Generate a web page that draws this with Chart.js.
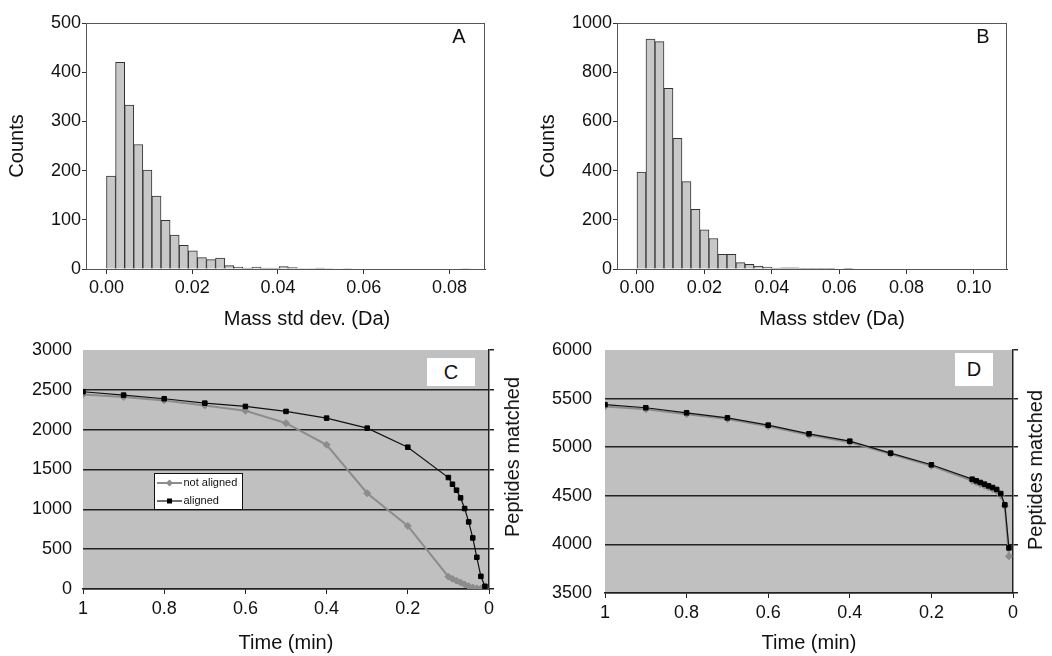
<!DOCTYPE html>
<html>
<head>
<meta charset="utf-8">
<script src="https://cdn.jsdelivr.net/npm/chart.js@4.4.1/dist/chart.umd.min.js"></script>
<style>
  body { margin: 0; background: #fff; width: 1052px; height: 656px; position: relative; overflow: hidden;
         font-family: "Liberation Sans", Arial, sans-serif; color: #111; }
  canvas { position: absolute; }
  .lbl { position: absolute; transform: translate(-50%, -50%); white-space: nowrap; line-height: 1; }
  .rot { transform: translate(-50%, -50%) rotate(-90deg); }
  .box { position: absolute; background: #fff; display: flex; align-items: center; justify-content: center; font-size: 20px; }
</style>
</head>
<body>
<canvas id="chartA" width="520" height="300" style="left:0;top:0"></canvas>
<canvas id="chartB" width="532" height="300" style="left:520px;top:0"></canvas>
<canvas id="chartC" width="520" height="356" style="left:0;top:300px"></canvas>
<canvas id="chartD" width="532" height="356" style="left:520px;top:300px"></canvas>

<div class="lbl" style="left:307px;top:318px;font-size:20px">Mass std dev. (Da)</div>
<div class="lbl" style="left:832px;top:318px;font-size:20px">Mass stdev (Da)</div>
<div class="lbl rot" style="left:512px;top:457px;font-size:20px">Peptides matched</div>
<div class="lbl rot" style="left:1035px;top:470px;font-size:20px">Peptides matched</div>
<div class="lbl" style="left:459px;top:36px;font-size:20px">A</div>
<div class="lbl" style="left:983px;top:36px;font-size:20px">B</div>
<div class="box" style="left:427px;top:358px;width:48px;height:28px">C</div>
<div class="box" style="left:955px;top:353px;width:38px;height:33px">D</div>

<script>
// histogram A: bin width (Da) and counts per bin
const binA = 0.00212;
const countsA = [189, 420, 333, 253, 201, 148, 99, 69, 48, 37, 23, 19, 22, 7, 4, 2, 4, 2, 2, 5,
                 3, 1, 1, 2, 1, 0, 1, 0, 0, 0, 0, 0, 0, 0, 0, 0, 0, 0, 0, 1];
const ticksA = [0, 0.02, 0.04, 0.06, 0.08];

// histogram B
const binB = 0.00267;
const countsB = [394, 935, 924, 734, 531, 355, 243, 159, 124, 60, 60, 26, 19, 12, 8, 4, 5, 5, 1, 3,
                 3, 1, 0, 3];
const ticksB = [0, 0.02, 0.04, 0.06, 0.08, 0.10];

// time windows (min) for C and D
const timeMin = [1, 0.9, 0.8, 0.7, 0.6, 0.5, 0.4, 0.3, 0.2, 0.1,
                 0.09, 0.08, 0.07, 0.06, 0.05, 0.04, 0.03, 0.02, 0.01];
const notAlignedC = [2442, 2409, 2367, 2304, 2237, 2082, 1810, 1202, 792, 155,
                     128, 105, 82, 58, 35, 18, 8, 5, 10];
const alignedC = [2476, 2434, 2388, 2333, 2292, 2229, 2145, 2019, 1780, 1399,
                  1315, 1240, 1144, 1010, 842, 641, 398, 159, 34];
const notAlignedD = [5418, 5390, 5340, 5290, 5215, 5125, 5050, 4930, 4808, 4655,
                     4638, 4620, 4603, 4587, 4570, 4550, 4505, 4395, 3878];
const alignedD = [5438, 5406, 5354, 5302, 5227, 5138, 5062, 4939, 4819, 4671,
                  4654, 4637, 4620, 4602, 4585, 4565, 4523, 4407, 3964];

Chart.defaults.font.family = '"Liberation Sans", Arial, sans-serif';
Chart.defaults.color = '#111';

// fills / outlines the plot area
const framePlugin = {
    id: 'frame',
    beforeDraw(chart, args, opts) {
        const a = chart.chartArea;
        if (opts.fill) {
            chart.ctx.save();
            chart.ctx.fillStyle = opts.fill;
            chart.ctx.fillRect(a.left, a.top, a.right - a.left, a.bottom - a.top);
            chart.ctx.restore();
        }
    },
    afterDraw(chart, args, opts) {
        const a = chart.chartArea;
        if (opts.stroke) {
            const ctx = chart.ctx;
            ctx.save();
            ctx.strokeStyle = opts.stroke;
            ctx.lineWidth = 1;
            ctx.strokeRect(a.left + 0.5, a.top + 0.5, a.right - a.left - 1, a.bottom - a.top);
            ctx.restore();
        }
    }
};

// small boxed legend inside the plot (Excel style)
const boxLegend = {
    id: 'boxLegend',
    afterDraw(chart, args, opts) {
        if (!opts.display) return;
        const ctx = chart.ctx, a = chart.chartArea;
        const x0 = Math.round(a.left + opts.left), y0 = Math.round(a.top + opts.top);
        ctx.save();
        ctx.fillStyle = '#fff';
        ctx.fillRect(x0, y0, opts.width, opts.height);
        ctx.strokeStyle = '#111';
        ctx.lineWidth = 1;
        ctx.strokeRect(x0 + 0.5, y0 + 0.5, opts.width, opts.height);
        chart.data.datasets.forEach((ds, i) => {
            const y = y0 + 10 + i * 18;
            ctx.strokeStyle = ds.borderColor;
            ctx.lineWidth = ds.borderWidth;
            ctx.beginPath();
            ctx.moveTo(x0 + 3, y);
            ctx.lineTo(x0 + 28, y);
            ctx.stroke();
            ctx.fillStyle = ds.pointBackgroundColor;
            const mx = x0 + 15.5;
            ctx.beginPath();
            if (ds.pointStyle === 'rectRot') {
                ctx.moveTo(mx, y - 3.5); ctx.lineTo(mx + 3.5, y);
                ctx.lineTo(mx, y + 3.5); ctx.lineTo(mx - 3.5, y);
            } else {
                ctx.rect(mx - 2.5, y - 2.5, 5, 5);
            }
            ctx.fill();
            ctx.fillStyle = '#111';
            ctx.font = '11px "Liberation Sans", Arial, sans-serif';
            ctx.textBaseline = 'middle';
            ctx.fillText(ds.label, x0 + 29.5, y);
        });
        ctx.restore();
    }
};

function histogram(id, counts, bin, xTicks, xMin, xMax, yMax, yStep, yWidth, rightPad, titlePad) {
    return new Chart(document.getElementById(id), {
        type: 'bar',
        data: {
            datasets: [{
                data: counts.map((c, i) => ({x: (i + 0.5) * bin, y: c})),
                backgroundColor: '#c8c8c8',
                borderColor: '#333',
                borderWidth: 1,
                barPercentage: 1,
                categoryPercentage: 1
            }]
        },
        options: {
            responsive: false,
            animation: false,
            events: [],
            layout: {padding: {top: 23, right: rightPad, left: 0, bottom: 0}},
            plugins: {
                legend: {display: false},
                tooltip: {enabled: false},
                frame: {stroke: '#555'}
            },
            scales: {
                x: {
                    type: 'linear',
                    min: xMin,
                    max: xMax,
                    offset: false,
                    afterBuildTicks: axis => { axis.ticks = xTicks.map(v => ({value: v})); },
                    afterFit: scale => { scale.height = 31; },
                    ticks: {font: {size: 18}, padding: 3, maxRotation: 0,
                            callback: v => Number(v).toFixed(2)},
                    grid: {offset: false, drawOnChartArea: false, tickLength: 5, color: '#333'},
                    border: {color: '#333'}
                },
                y: {
                    min: 0,
                    max: yMax,
                    afterFit: scale => { scale.width = yWidth; },
                    ticks: {stepSize: yStep, font: {size: 18}, padding: 1, callback: v => String(v)},
                    grid: {drawOnChartArea: false, tickLength: 4, color: '#333'},
                    border: {color: '#333'},
                    title: {display: true, text: 'Counts', font: {size: 20}, padding: {top: titlePad, bottom: 0}}
                }
            }
        },
        plugins: [framePlugin]
    });
}

function timeChart(id, notAligned, aligned, yMin, yMax, yWidth, rightWidth, xHeight, labelPad, showLegend) {
    const pts = arr => timeMin.map((t, i) => ({x: t, y: arr[i]}));
    return new Chart(document.getElementById(id), {
        type: 'line',
        data: {
            datasets: [{
                label: 'not aligned',
                data: pts(notAligned),
                borderColor: '#8c8c8c',
                borderWidth: 2,
                pointStyle: 'rectRot',
                pointRadius: 3.5,
                pointBackgroundColor: '#8c8c8c',
                pointBorderColor: '#8c8c8c',
                pointBorderWidth: 1,
                tension: 0,
                order: 1
            }, {
                label: 'aligned',
                data: pts(aligned),
                borderColor: '#111',
                borderWidth: 1.2,
                pointStyle: 'rect',
                pointRadius: 3.2,
                pointBackgroundColor: '#000',
                pointBorderColor: '#000',
                pointBorderWidth: 1,
                tension: 0,
                order: 0
            }]
        },
        options: {
            responsive: false,
            animation: false,
            events: [],
            layout: {padding: {top: 50, right: 0, left: 0, bottom: 0}},
            plugins: {
                legend: {display: false},
                tooltip: {enabled: false},
                frame: {fill: '#c0c0c0'},
                boxLegend: {display: showLegend, left: 71, top: 123, width: 88, height: 36}
            },
            scales: {
                x: {
                    type: 'linear',
                    reverse: true,
                    min: 0,
                    max: 1,
                    afterFit: scale => { scale.height = xHeight; },
                    ticks: {stepSize: 0.2, font: {size: 18}, padding: 4, maxRotation: 0,
                            callback: v => String(Math.round(v * 10) / 10)},
                    grid: {drawOnChartArea: false, tickLength: 5, color: '#222'},
                    border: {color: '#222', width: 1.5},
                    title: {display: true, text: 'Time (min)', font: {size: 20}, padding: {top: 0, bottom: 1}}
                },
                y: {
                    min: yMin,
                    max: yMax,
                    afterFit: scale => { scale.width = yWidth; },
                    ticks: {stepSize: 500, font: {size: 18}, padding: labelPad, callback: v => String(v)},
                    grid: {
                        drawTicks: false,
                        lineWidth: 1.5,
                        color: ctx => (ctx.tick && ctx.tick.value === yMax) ? 'rgba(0,0,0,0)' : '#222'
                    },
                    border: {display: false}
                },
                y2: {
                    position: 'right',
                    min: yMin,
                    max: yMax,
                    afterFit: scale => { scale.width = rightWidth; },
                    ticks: {stepSize: 500, display: false},
                    grid: {drawOnChartArea: false, tickLength: 5, color: '#222', lineWidth: 1.5},
                    border: {display: true, color: '#222', width: 1.5}
                }
            }
        },
        plugins: [framePlugin, boxLegend]
    });
}

histogram('chartA', countsA, binA, ticksA, -0.00478, 0.0883, 500, 100, 86, 35, 5);
histogram('chartB', countsB, binB, ticksB, -0.00593, 0.1098, 1000, 200, 97, 45, 16);
timeChart('chartC', notAlignedC, alignedC, 0, 3000, 83, 31, 67, 11, true);
timeChart('chartD', notAlignedD, alignedD, 3500, 6000, 85, 39, 63, 13, false);
</script>
</body>
</html>
